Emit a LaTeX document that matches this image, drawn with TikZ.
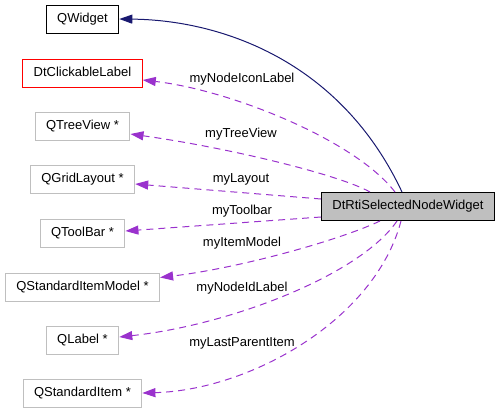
\documentclass[tikz,border=0pt]{standalone}
\usepackage{fontspec}
\setmainfont{Liberation Sans}
\usetikzlibrary{arrows.meta}
\definecolor{edgeblue}{HTML}{191970}
\definecolor{edgepurple}{HTML}{9A32CD}
\definecolor{boxgray}{HTML}{BFBFBF}

\begin{document}
\begin{tikzpicture}[x=1pt, y=-1pt,
	box/.style={draw, line width=1pt, minimum height=28pt, inner xsep=11pt, inner ysep=0pt, font=\fontsize{13}{15}\selectfont, text height=9.5pt, text depth=2.7pt},
	refbox/.style={box, draw=boxgray},
	lbl/.style={font=\fontsize{13}{15}\selectfont, inner sep=0pt, text height=9.5pt, text depth=2.7pt},
	inherit/.style={edgeblue, line width=1pt, -{Triangle[length=13pt, width=9pt]}},
	member/.style={edgepurple, line width=1pt, dash pattern=on 7pt off 5pt, -{Triangle[length=13pt, width=9pt]}}]
	\useasboundingbox (0,0) rectangle (501,413);
	\node[box] (qwidget) at (82.5,19) {QWidget};
	\node[box, draw=red] (clicklabel) at (82.5,73) {DtClickableLabel};
	\foreach \n/\y/\t in {treeview/126/QTreeView *, gridlayout/179/QGridLayout *, toolbar/233/QToolBar *, itemmodel/287.5/QStandardItemModel *, label/340/QLabel *, item/393/QStandardItem *}
		\node[refbox] (\n) at (82.5,\y) {\t};
	\node[box, fill=boxgray] (widget) at (408,206.5) {DtRtiSelectedNodeWidget};
	\draw[inherit] ([xshift=81pt]widget.north west) .. controls (340,60) and (220,20) .. (qwidget.east);
	\draw[member] ([xshift=74pt]widget.north west) .. controls (355,140) and (230,90) .. ([yshift=-7pt]clicklabel.east);
	\draw[member] ([xshift=49pt]widget.north west) .. controls (340,175) and (230,148) .. ([yshift=-8pt]treeview.east);
	\draw[member] ([yshift=-7pt]widget.north west) -- ([yshift=-5pt]gridlayout.east);
	\draw[member] ([yshift=4pt]widget.south west) -- ([yshift=2pt]toolbar.east);
	\draw[member] ([xshift=59pt]widget.south west) .. controls (340,240) and (240,268) .. ([yshift=10pt]itemmodel.east);
	\draw[member] ([xshift=76pt]widget.south west) .. controls (360,275) and (230,325) .. ([yshift=3pt]label.east);
	\draw[member] ([xshift=80pt]widget.south west) .. controls (375,320) and (250,390) .. (item.east);
	\node[lbl] (nodeiconlbl) at (242,79) {myNodeIconLabel};
	\node[lbl] (treeviewlbl) at (241,134) {myTreeView};
	\node[lbl] (layoutlbl) at (241,179) {myLayout};
	\node[lbl] (toolbarlbl) at (242,211) {myToolbar};
	\node[lbl] (itemmodellbl) at (242,243) {myItemModel};
	\node[lbl] (nodeidlbl) at (242,288) {myNodeIdLabel};
	\node[lbl] (parentitemlbl) at (242,343) {myLastParentItem};
\end{tikzpicture}
\end{document}
